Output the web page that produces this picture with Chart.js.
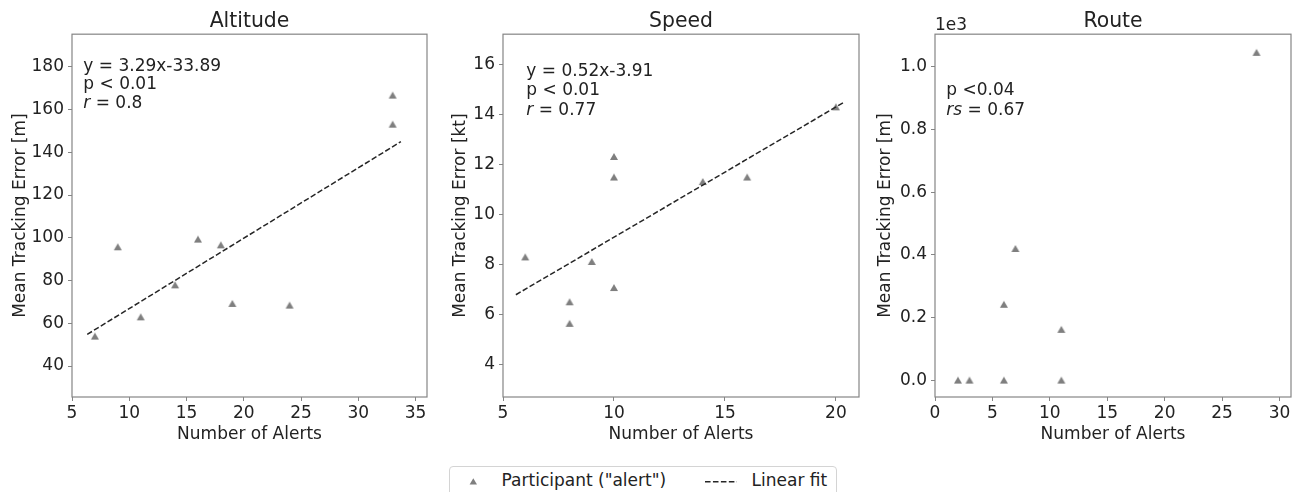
<!DOCTYPE html>
<html>
<head>
<meta charset="utf-8">
<script src="https://cdn.jsdelivr.net/npm/chart.js@4.4.1/dist/chart.umd.min.js"></script>
<style>
html,body{margin:0;padding:0;background:#fff;width:1296px;height:492px;overflow:hidden;position:relative;}
.panel{position:absolute;top:0;width:432px;height:492px;}
.panel canvas{display:block;}
#legendBox{position:absolute;left:449px;top:466px;width:386px;height:40px;border:1px solid #d4d4d4;border-radius:4px;background:#fff;}
.legText{position:absolute;top:470px;line-height:20px;font-family:'DejaVu Sans';font-size:17px;color:#222;white-space:nowrap;}
#legendMarks{position:absolute;left:0;top:0;}
</style>
</head>
<body>
<div class="panel" style="left:0px"><canvas id="c1" width="432" height="492"></canvas></div>
<div class="panel" style="left:432px"><canvas id="c2" width="432" height="492"></canvas></div>
<div class="panel" style="left:864px"><canvas id="c3" width="432" height="492"></canvas></div>
<div id="legendBox"></div>
<svg id="legendMarks" width="1296" height="492">
  <polygon points="473.3,478.3 477,484.6 469.6,484.6" fill="#7f7f7f"/>
  <line x1="705" y1="481.7" x2="737" y2="481.7" stroke="#262626" stroke-width="1.5" stroke-dasharray="5.55 2.4"/>
</svg>
<span class="legText" id="leg1" style="left:501.6px"></span>
<span class="legText" id="leg2" style="left:751.6px"></span>
<script>
// ---------- DATA ----------
const seriesNames = ['Participant ("alert")', 'Linear fit'];
const panelTitles = ['Altitude', 'Speed', 'Route'];
const xAxisLabel = 'Number of Alerts';
const yAxisLabels = ['Mean Tracking Error [m]', 'Mean Tracking Error [kt]', 'Mean Tracking Error [m]'];

const altitudeAlerts = [7, 9, 11, 14, 16, 18, 19, 24, 33, 33];
const altitudeError  = [54, 95.8, 63, 78, 99.4, 96.7, 69.3, 68.5, 166.8, 153.2];
const altitudeFitX   = [6.33, 33.72];
const altitudeFitY   = [54.8, 145.0];
const altitudeXTicks = [5, 10, 15, 20, 25, 30, 35];
const altitudeYTicks = [40, 60, 80, 100, 120, 140, 160, 180];

const speedAlerts = [6, 8, 8, 9, 10, 10, 10, 14, 16, 20];
const speedError  = [8.31, 6.52, 5.66, 8.13, 7.09, 12.32, 11.5, 11.32, 11.5, 14.3];
const speedFitX   = [5.58, 20.34];
const speedFitY   = [6.8, 14.47];
const speedXTicks = [5, 10, 15, 20];
const speedYTicks = [4, 6, 8, 10, 12, 14, 16];

const routeAlerts = [2, 3, 6, 6, 7, 11, 11, 28];
const routeError  = [0, 0, 0, 242, 420, 0, 162, 1046];
const routeXTicks = [0, 5, 10, 15, 20, 25, 30];
const routeYTicks = [0, 200, 400, 600, 800, 1000];

// ---------- STYLE ----------
Chart.defaults.font.family = "'DejaVu Sans'";
const TXT = '#222222';
const FRAME = '#858585';
const MARK = '#7f7f7f';
const FS = 17;

function makeTriangle(w, h, color) {
  const c = document.createElement('canvas');
  c.width = w + 2; c.height = h + 2;
  const g = c.getContext('2d');
  g.fillStyle = color;
  g.beginPath();
  g.moveTo((w + 2) / 2, 1);
  g.lineTo(w + 1, h + 1);
  g.lineTo(1, h + 1);
  g.closePath();
  g.fill();
  return c;
}
const triMarker = makeTriangle(8, 7, MARK);

const panelPlugin = {
  id: 'panelDecor',
  afterDraw(chart, args, opts) {
    const ctx = chart.ctx;
    const a = chart.chartArea;
    ctx.save();
    ctx.strokeStyle = FRAME;
    ctx.lineWidth = 1.2;
    ctx.strokeRect(a.left, a.top, a.right - a.left, a.bottom - a.top);
    ctx.fillStyle = TXT;
    ctx.textBaseline = 'alphabetic';
    ctx.textAlign = 'left';
    (opts.lines || []).forEach((segs, i) => {
      let x = a.left + opts.dx;
      const y = a.top + opts.dy[i];
      segs.forEach(([t, it]) => {
        ctx.font = (it ? 'italic ' : '') + FS + "px 'DejaVu Sans'";
        ctx.fillText(t, x, y);
        x += ctx.measureText(t).width;
      });
    });
    if (opts.offsetText) {
      ctx.font = FS + "px 'DejaVu Sans'";
      ctx.fillText(opts.offsetText, a.left, 30);
    }
    ctx.restore();
  }
};

function buildPanel(id, p) {
  const datasets = [{
    label: seriesNames[0],
    data: p.xs.map((x, i) => ({ x: x, y: p.ys[i] })),
    pointStyle: triMarker,
    pointRadius: 5,
    backgroundColor: MARK,
    borderWidth: 0,
    order: 2
  }];
  if (p.fitX) {
    datasets.push({
      type: 'line',
      label: seriesNames[1],
      data: p.fitX.map((x, i) => ({ x: x, y: p.fitY[i] })),
      borderColor: '#262626',
      borderWidth: 1.5,
      borderDash: [5.55, 2.4],
      pointRadius: 0,
      fill: false,
      showLine: true,
      tension: 0,
      order: 1
    });
  }
  return new Chart(document.getElementById(id), {
    type: 'scatter',
    data: { datasets: datasets },
    options: {
      responsive: false,
      animation: false,
      devicePixelRatio: 1,
      layout: { padding: { left: 0, right: p.padRight, top: 0, bottom: 0 } },
      plugins: {
        legend: { display: false },
        tooltip: { enabled: false },
        title: {
          display: true, text: p.title, fullSize: false,
          font: { size: 20.4, weight: 'normal' }, color: TXT,
          padding: { top: 9.7, bottom: 0 }
        },
        panelDecor: { lines: p.lines, dx: p.dx, dy: p.dy, offsetText: p.offsetText }
      },
      scales: {
        x: {
          type: 'linear', min: p.xMin, max: p.xMax,
          afterBuildTicks: s => { s.ticks = p.xTicks.map(v => ({ value: v })); },
          afterFit: s => { s.height = 95; s.paddingLeft = 0; s.paddingRight = 0; },
          ticks: { autoSkip: false, maxRotation: 0, font: { size: FS }, color: TXT, padding: 2.5 },
          grid: { drawOnChartArea: false, drawTicks: true, tickLength: 4, tickColor: FRAME, tickWidth: 1 },
          border: { display: false },
          title: { display: true, text: xAxisLabel, font: { size: FS }, color: TXT, padding: { top: 0, bottom: 47.6 } }
        },
        y: {
          type: 'linear', min: p.yMin, max: p.yMax,
          afterBuildTicks: s => { s.ticks = p.yTicks.map(v => ({ value: v })); },
          afterFit: s => { s.width = p.yWidth; s.paddingTop = 0; s.paddingBottom = 0; },
          ticks: { autoSkip: false, font: { size: FS }, color: TXT, padding: 4, callback: p.yFmt },
          grid: { drawOnChartArea: false, drawTicks: true, tickLength: 4, tickColor: FRAME, tickWidth: 1 },
          border: { display: false },
          title: { display: true, text: p.yLabel, font: { size: FS }, color: TXT, padding: { top: p.yTitlePad, bottom: 0 } }
        }
      }
    },
    plugins: [panelPlugin]
  });
}

buildPanel('c1', {
  title: panelTitles[0], yLabel: yAxisLabels[0],
  xs: altitudeAlerts, ys: altitudeError, fitX: altitudeFitX, fitY: altitudeFitY,
  xMin: 5, xMax: 36.0, yMin: 25.5, yMax: 195.3,
  xTicks: altitudeXTicks, yTicks: altitudeYTicks,
  yWidth: 72, padRight: 2, yTitlePad: 10.2,
  dx: 11.3, dy: [37, 55.3, 74.3],
  lines: [[['y = 3.29x-33.89', false]], [['p < 0.01', false]], [['r', true], [' = 0.8', false]]]
});

buildPanel('c2', {
  title: panelTitles[1], yLabel: yAxisLabels[1],
  xs: speedAlerts, ys: speedError, fitX: speedFitX, fitY: speedFitY,
  xMin: 5, xMax: 21.04, yMin: 2.72, yMax: 17.2,
  xTicks: speedXTicks, yTicks: speedYTicks,
  yWidth: 71, padRight: 3, yTitlePad: 18.5,
  dx: 23.3, dy: [42, 61, 80.7],
  lines: [[['y = 0.52x-3.91', false]], [['p < 0.01', false]], [['r', true], [' = 0.77', false]]]
});

buildPanel('c3', {
  title: panelTitles[2], yLabel: yAxisLabels[2],
  xs: routeAlerts, ys: routeError,
  xMin: 0, xMax: 31.0, yMin: -54, yMax: 1104,
  xTicks: routeXTicks, yTicks: routeYTicks,
  yFmt: v => (v / 1000).toFixed(1),
  yWidth: 71, padRight: 5, yTitlePad: 11.8,
  dx: 11.3, dy: [61, 81],
  lines: [[['p <0.04', false]], [['rs', true], [' = 0.67', false]]],
  offsetText: '1e3'
});

document.getElementById('leg1').textContent = seriesNames[0];
document.getElementById('leg2').textContent = seriesNames[1];
</script>
</body>
</html>
